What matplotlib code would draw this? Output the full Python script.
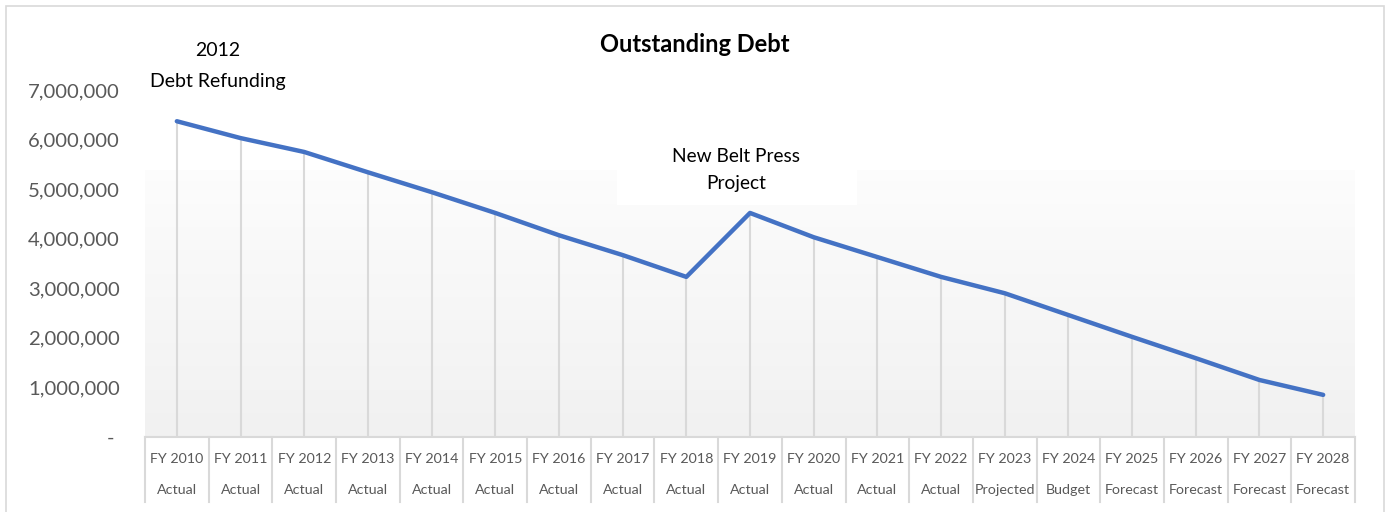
import matplotlib
matplotlib.use("Agg")
import matplotlib.pyplot as plt
import numpy as np
from matplotlib.patches import Rectangle
from matplotlib.ticker import FuncFormatter

plt.rcParams['font.family'] = ['Lato', 'DejaVu Sans']

years = ["FY 2010", "FY 2011", "FY 2012", "FY 2013", "FY 2014", "FY 2015", "FY 2016",
         "FY 2017", "FY 2018", "FY 2019", "FY 2020", "FY 2021", "FY 2022", "FY 2023",
         "FY 2024", "FY 2025", "FY 2026", "FY 2027", "FY 2028"]
status = ["Actual"] * 13 + ["Projected", "Budget", "Forecast", "Forecast", "Forecast", "Forecast"]
debt = [6370000, 6030000, 5750000, 5340000, 4940000, 4520000, 4070000, 3670000, 3230000,
        4520000, 4030000, 3630000, 3230000, 2900000, 2460000, 2020000, 1590000, 1150000, 850000]
yticks = [0, 1000000, 2000000, 3000000, 4000000, 5000000, 6000000, 7000000]

W, H = 1391, 512
fig = plt.figure(figsize=(W / 100, H / 100), dpi=100)
fig.patch.set_facecolor("white")

# outer chart border
fig.patches.append(Rectangle((6 / W, -0.02), (1384 - 6) / W, 1 - 6 / H + 0.02,
                             transform=fig.transFigure, fill=False,
                             edgecolor="#d9d9d9", linewidth=1.2))

left, right = 145 / W, 1355 / W
bottom, top = 1 - 437 / H, 1 - 90 / H
ax = fig.add_axes([left, bottom, right - left, top - bottom])

x = np.arange(len(years))

# gradient background (plot area starts at about 5.4M level)
grad_top = (437 - 170) / (437 - 90) * 7000000
t = np.linspace(0, 1, 256)
shade = 0.945 + (0.99 - 0.945) * t
img = np.stack([shade, shade, shade], axis=-1)[:, None, :].repeat(2, axis=1)
ax.imshow(img, extent=[-0.5, len(years) - 0.5, 0, grad_top], aspect="auto",
          origin="lower", zorder=0, interpolation="bilinear")

# drop lines
ax.vlines(x, 0, debt, colors="#d9d9d9", linewidth=1.5, zorder=1)
ax.plot(x, debt, color="#4472C4", linewidth=3.2, solid_capstyle="round",
        solid_joinstyle="round", zorder=3)

ax.set_xlim(-0.5, len(years) - 0.5)
ax.set_ylim(0, 7000000)

for s in ax.spines.values():
    s.set_visible(False)
ax.set_xticks([])
ax.set_yticks(yticks)
ax.yaxis.set_major_formatter(FuncFormatter(lambda v, p: "- " if v == 0 else f"{int(v):,}"))
ax.tick_params(axis="y", length=0, pad=18, labelsize=14.6, labelcolor="#595959")

# category axis boxes
box_bottom = -(502 - 437) / (437 - 90) * 7000000
ax.plot([-0.5, len(years) - 0.5], [0, 0], color="#d9d9d9", linewidth=1.5,
        clip_on=False, zorder=2)
for b in np.arange(-0.5, len(years), 1.0):
    ax.plot([b, b], [0, box_bottom], color="#d9d9d9", linewidth=1.5, clip_on=False, zorder=2)
row1 = -(459 - 437) / (437 - 90) * 7000000
row2 = -(490 - 437) / (437 - 90) * 7000000
for i, (yr, st) in enumerate(zip(years, status)):
    ax.text(i, row1, yr, ha="center", va="center", fontsize=10.3, color="#595959", clip_on=False)
    ax.text(i, row2, st, ha="center", va="center", fontsize=10.3, color="#595959", clip_on=False)

# title
fig.text(695 / W, 1 - 44 / H, "Outstanding Debt", ha="center", va="center",
         fontsize=17, fontweight="bold", color="black")

# annotations
fig.text(218 / W, 1 - 50 / H, "2012", ha="center", va="center", fontsize=14, color="black")
fig.text(218 / W, 1 - 81 / H, "Debt Refunding", ha="center", va="center", fontsize=14, color="black")
fig.patches.append(Rectangle((617 / W, 1 - 205 / H), (857 - 617) / W, (205 - 132) / H,
                             transform=fig.transFigure, facecolor="white", edgecolor="none",
                             zorder=4))
fig.text(736 / W, 1 - 156 / H, "New Belt Press", ha="center", va="center", fontsize=13.8,
         color="black", zorder=5)
fig.text(736 / W, 1 - 184 / H, "Project", ha="center", va="center", fontsize=13.8,
         color="black", zorder=5)

fig.savefig("out.png", dpi=100)
